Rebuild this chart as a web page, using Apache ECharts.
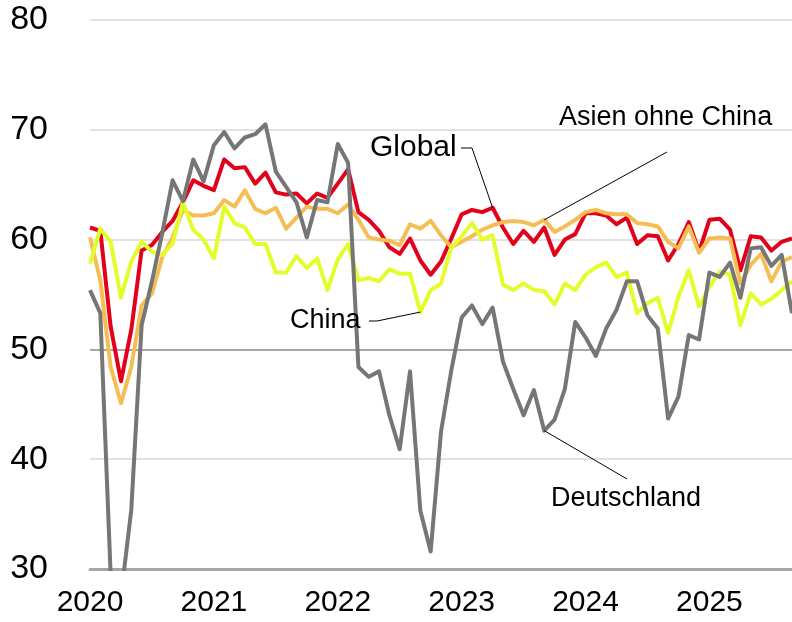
<!DOCTYPE html>
<html>
<head>
<meta charset="utf-8">
<script src="https://cdn.jsdelivr.net/npm/echarts@6/dist/echarts.min.js"></script>
<style>
  html, body { margin: 0; padding: 0; background: #fff; }
  #chart { width: 792px; height: 622px; }
</style>
</head>
<body>
<div id="chart"></div>
<script>
// Jahre auf der x-Achse (Monatswerte Jan 2020 - Sep 2025)
const years = ['2020', '2021', '2022', '2023', '2024', '2025']
const lastYearMonths = 9

const global = [
  61.1, 60.8, 52.1, 47.1, 51.8, 59.0, 59.5, 60.7, 61.7, 63.4,
  65.4, 64.9, 64.5, 67.3, 66.5, 66.6, 65.1, 66.1, 64.3, 64.1,
  64.2, 63.3, 64.2, 63.8, 65.1, 66.4, 62.5, 61.8, 60.8, 59.3,
  58.7, 60.1, 58.1, 56.8, 58.0, 60.1, 62.3, 62.7, 62.5, 62.9,
  61.1, 59.6, 60.8, 59.8, 61.1, 58.6, 60.0, 60.5, 62.4, 62.4,
  62.2, 61.4, 62.0, 59.6, 60.4, 60.3, 58.1, 59.6, 61.6, 58.9,
  61.8, 61.9, 60.9, 57.2, 60.3, 60.2, 59.0, 59.8, 60.1
]
const asienOhneChina = [
  60.2, 56.3, 48.4, 45.1, 48.4, 54.0, 55.1, 58.4, 60.2, 62.7,
  62.2, 62.2, 62.4, 63.6, 63.0, 64.5, 62.8, 62.4, 62.9, 61.0,
  62.0, 63.0, 62.8, 62.8, 62.4, 63.2, 61.8, 60.2, 60.0, 59.9,
  59.5, 61.4, 61.0, 61.7, 60.4, 59.3, 59.8, 60.3, 60.9, 61.3,
  61.6, 61.7, 61.6, 61.3, 61.8, 60.7, 61.2, 61.8, 62.5, 62.7,
  62.4, 62.3, 62.3, 61.5, 61.4, 61.2, 59.8, 59.2, 61.2, 58.8,
  60.1, 60.2, 60.1, 56.0, 57.7, 58.7, 56.2, 58.0, 58.4
]
const china = [
  57.8, 61.0, 59.8, 54.7, 58.0, 59.8, 58.9, 58.6, 59.6, 63.4,
  60.9, 60.0, 58.3, 63.0, 61.5, 61.1, 59.6, 59.6, 57.0, 57.0,
  58.5, 57.4, 58.3, 55.4, 58.2, 59.6, 56.3, 56.5, 56.2, 57.3,
  56.9, 56.9, 53.4, 55.4, 56.0, 59.3, 60.3, 61.5, 60.0, 60.4,
  55.9, 55.4, 56.0, 55.4, 55.3, 54.1, 56.0, 55.4, 56.8, 57.5,
  57.9, 56.6, 57.0, 53.3, 54.2, 54.7, 51.5, 54.8, 57.2, 53.9,
  55.7, 57.1, 56.8, 52.2, 55.1, 54.1, 54.6, 55.4, 56.2
]
const deutschland = [
  55.4, 53.3, 29.5, 27.5, 35.4, 52.2, 56.2, 60.6, 65.4, 63.5,
  67.3, 65.3, 68.6, 69.8, 68.3, 69.3, 69.6, 70.5, 66.2, 64.8,
  63.4, 60.2, 63.6, 63.4, 68.7, 67.0, 48.4, 47.5, 48.0, 44.0,
  40.9, 48.0, 35.3, 31.6, 42.5, 48.1, 52.9, 54.0, 52.3, 53.8,
  48.9, 46.4, 44.0, 46.3, 42.6, 43.6, 46.4, 52.5, 51.1, 49.4,
  51.9, 53.6, 56.2, 56.2, 53.1, 51.9, 43.7, 45.7, 51.3, 50.9,
  57.0, 56.6, 57.9, 54.7, 59.2, 59.3, 57.6, 58.6, 53.3
]

const months = []
years.forEach((y, idx) => {
  const n = idx === years.length - 1 ? lastYearMonths : 12
  for (let m = 1; m <= n; m++) {
    months.push(y + '-' + (m < 10 ? '0' + m : m))
  }
})

const font = 'Liberation Sans, Arial, sans-serif'
const myChart = echarts.init(document.getElementById('chart'), null, { renderer: 'canvas' })

function lineSeries(name, data, color) {
  return {
    name: name,
    type: 'line',
    data: data,
    symbol: 'none',
    smooth: false,
    lineStyle: { color: color, width: 4, join: 'round' },
    emphasis: { disabled: true },
    z: 3
  }
}

const option = {
  animation: false,
  backgroundColor: '#fff',
  grid: { left: 90, right: 0, top: 20, bottom: 53, containLabel: false },
  xAxis: {
    type: 'category',
    boundaryGap: false,
    data: months,
    axisLine: { show: true, lineStyle: { color: '#a6a6a6', width: 3 } },
    axisTick: { show: false },
    axisLabel: {
      interval: 11,
      margin: 19,
      color: '#000',
      fontSize: 30,
      fontFamily: font,
      formatter: v => v.slice(0, 4)
    },
    splitLine: { show: false }
  },
  yAxis: {
    type: 'value',
    min: 30,
    max: 80,
    interval: 10,
    axisLine: { show: false },
    axisTick: { show: false },
    axisLabel: { color: '#000', fontSize: 34, fontFamily: font, margin: 42 },
    splitLine: { show: true, lineStyle: { color: '#d9d9d9', width: 1.5 } }
  },
  series: [
    lineSeries('Global', global, '#e2001a'),
    lineSeries('Asien ohne China', asienOhneChina, '#f5be55'),
    lineSeries('China', china, '#e4fc2c'),
    Object.assign(lineSeries('Deutschland', deutschland, '#767676'), {
      // 50er-Linie hervorgehoben
      markLine: {
        silent: true,
        symbol: 'none',
        label: { show: false },
        lineStyle: { color: '#a6a6a6', width: 2, type: 'solid' },
        data: [{ yAxis: 50 }],
        z: 1
      }
    })
  ]
}
myChart.setOption(option)

// Beschriftungen mit Hinweislinien
function pt(i, arr) {
  return myChart.convertToPixel({ gridIndex: 0 }, [i, arr[i]])
}
function label(text, x, y, size) {
  return {
    type: 'text',
    style: { text: text, x: x, y: y, fill: '#000', font: size + 'px ' + font, textVerticalAlign: 'middle' },
    z: 10
  }
}
function leader(points) {
  return {
    type: 'polyline',
    shape: { points: points },
    style: { stroke: '#000', lineWidth: 1, fill: null },
    z: 10
  }
}

myChart.setOption({
  graphic: [
    label('Global', 370, 148, 30),
    leader([[461, 148], [472, 148], pt(39, global)]),
    label('Asien ohne China', 559, 118, 27),
    leader([[667, 152], pt(44, asienOhneChina)]),
    label('China', 290, 321, 27),
    leader([[369, 321], [377, 321], pt(32, china)]),
    label('Deutschland', 551, 499, 27),
    leader([[627, 479], pt(44, deutschland)])
  ]
})
</script>
</body>
</html>
